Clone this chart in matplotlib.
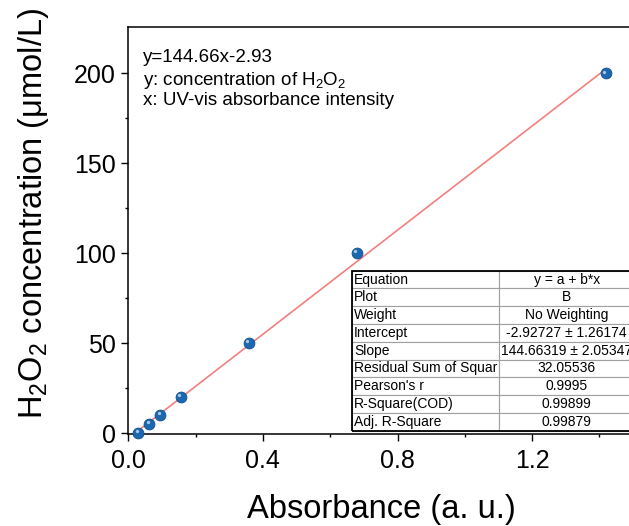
import numpy as np
import matplotlib.pyplot as plt
from matplotlib.patches import Rectangle
from matplotlib.transforms import offset_copy

plt.rcParams['font.family'] = ['Liberation Sans', 'DejaVu Sans']
plt.rcParams['mathtext.fontset'] = 'custom'
plt.rcParams['mathtext.rm'] = 'Liberation Sans'
plt.rcParams['mathtext.it'] = 'Liberation Sans:italic'

# calibration points
absorbance = [0.030, 0.062, 0.095, 0.157, 0.359, 0.680, 1.419]
conc = [0, 5, 10, 20, 50, 100, 200]

# linear fit reported on the chart
slope, intercept = 144.66, -2.93

fit_rows = ["Equation", "Plot", "Weight", "Intercept", "Slope",
            "Residual Sum of Squar", "Pearson's r", "R-Square(COD)",
            "Adj. R-Square"]
fit_vals = ["y = a + b*x", "B", "No Weighting", "-2.92727 \u00b1 1.26174",
            "144.66319 \u00b1 2.05347", "32.05536", "0.9995", "0.99899",
            "0.99879"]

fig = plt.figure(figsize=(6.29, 5.26), dpi=100)
ax = fig.add_axes([0.204, 0.175, 0.8025, 0.773])

xfit = np.array([min(absorbance), max(absorbance)])
ax.plot(xfit, slope * xfit + intercept, color="#f47f7f", lw=1.2, zorder=2)

# ball-style markers: dark blue body with a light highlight
ax.plot(absorbance, conc, "o", ms=7.8, color="#1b67b0", mec="#10508f",
        mew=0.6, zorder=3, clip_on=False)
hl = offset_copy(ax.transData, fig=fig, x=-1.2, y=1.2, units="points")
ax.plot(absorbance, conc, "o", ms=2.4, color="#a4c8ec", mew=0,
        transform=hl, zorder=4, clip_on=False)

ax.set_xlim(0, 1.5)
ax.set_ylim(-0.5, 225.5)
ax.set_xticks([0.0, 0.4, 0.8, 1.2])
ax.set_xticks([0.2, 0.6, 1.0, 1.4], minor=True)
ax.set_yticks([0, 50, 100, 150, 200])
ax.set_yticks([25, 75, 125, 175], minor=True)
ax.xaxis.set_major_formatter(plt.FormatStrFormatter("%.1f"))
ax.tick_params(which="both", direction="out", width=1.0, labelsize=18,
               top=False, right=False)
ax.tick_params(which="major", length=5)
ax.tick_params(which="minor", length=2.5)
ax.tick_params(axis="x", pad=6)
ax.tick_params(axis="y", pad=4)
for s in ax.spines.values():
    s.set_linewidth(1.1)

fig.text(0.606, 0.0146, "Absorbance (a. u.)", fontsize=23.5,
         ha="center", va="baseline")
fig.text(0.054, 0.594, "H$_2$O$_2$ concentration (\u03bcmol/L)", fontsize=23.5,
         rotation=90, ha="center", va="center")

ax.text(0.029, 0.915, "y=144.66x-2.93", transform=ax.transAxes,
        fontsize=13.5, va="baseline")
ax.text(0.029, 0.858, "y: concentration of H$_2$O$_2$", transform=ax.transAxes,
        fontsize=13.5, va="baseline")
ax.text(0.029, 0.809, "x: UV-vis absorbance intensity", transform=ax.transAxes,
        fontsize=13.5, va="baseline")

cells = [[r, v] for r, v in zip(fit_rows, fit_vals)]
tb = ax.table(cellText=cells, colWidths=[0.5228, 0.4772],
              bbox=[0.4426, 0.008, 0.5593, 0.3935], zorder=5)
tb.auto_set_font_size(False)
for (r, c), cell in tb.get_celld().items():
    cell.set_edgecolor("#a0a0a0")
    cell.set_linewidth(0.8)
    cell.set_facecolor("white")
    cell.PAD = 0.015
    cell.get_text().set_fontsize(10)
    cell.set_text_props(ha="left" if c == 0 else "center")
    cell._loc = "left" if c == 0 else "center"
ax.add_patch(Rectangle((0.4426, 0.008), 0.5593, 0.3935, transform=ax.transAxes,
                       fill=False, ec="black", lw=1.3, zorder=6, clip_on=False))

fig.savefig("out.png", dpi=100)
